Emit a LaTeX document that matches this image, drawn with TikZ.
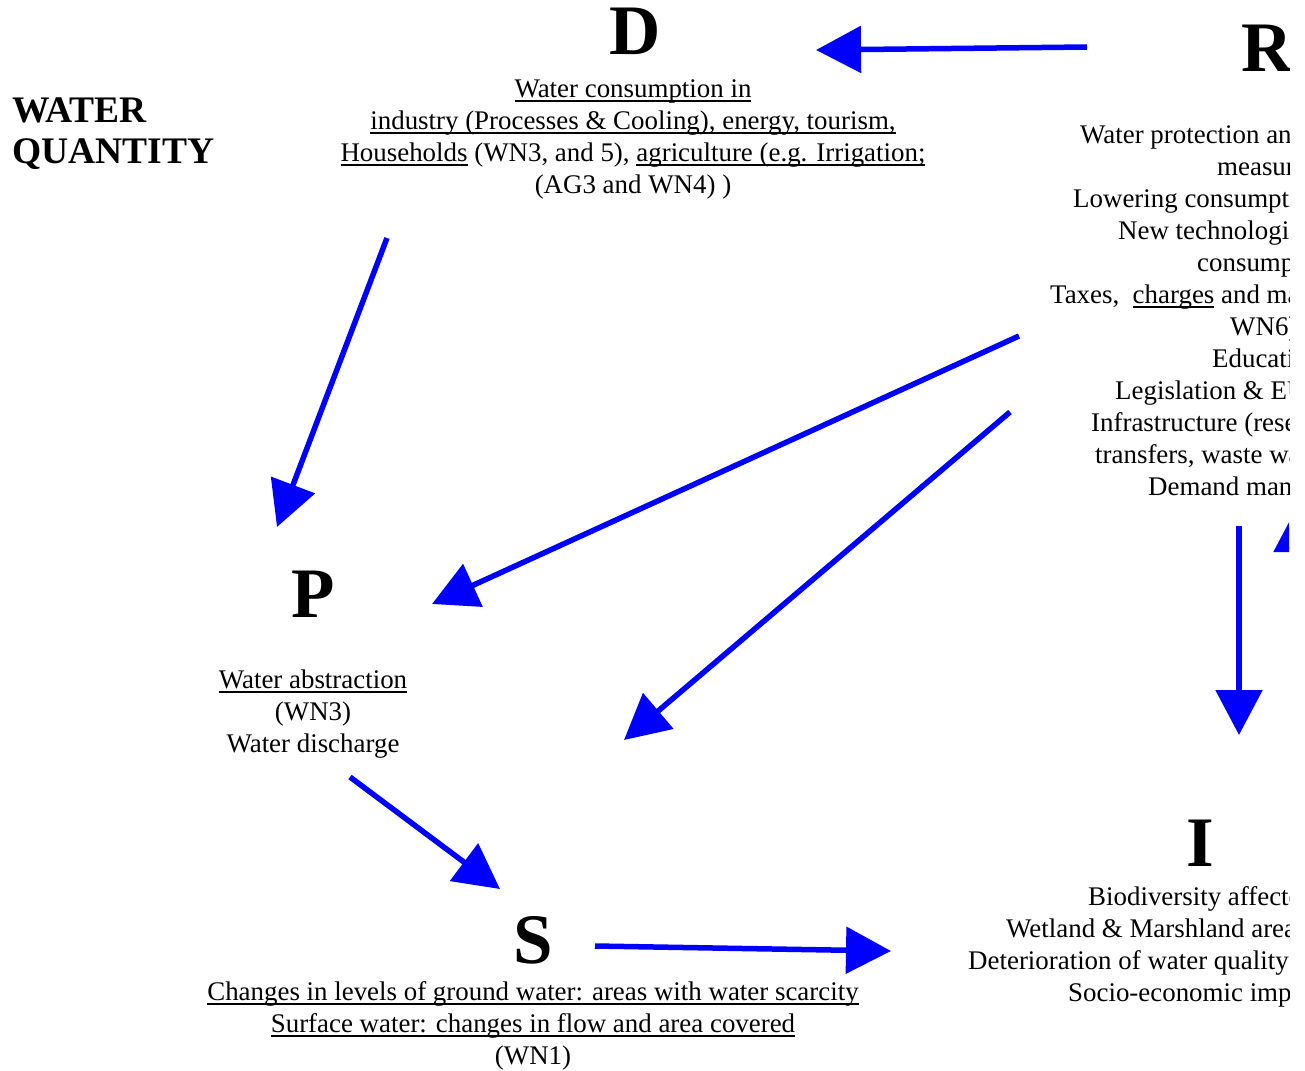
\documentclass[tikz,border=0pt]{standalone}
\usepackage{fontspec}
\setmainfont{Liberation Serif}
\usetikzlibrary{arrows.meta}
\newcommand\myul[1]{\leavevmode\setbox0\hbox{#1}\rlap{\rule[-4.5pt]{\wd0}{1.8pt}}\box0\relax}
\tikzset{
  lbl/.style={font=\fontsize{26.9}{32}\selectfont, inner sep=0pt, align=center},
  lline/.style={font=\fontsize{26.9}{32}\selectfont, inner sep=0pt, anchor=base west},
  big/.style={font=\fontsize{71}{80}\selectfont\bfseries, inner sep=0pt, anchor=base},
  flow/.style={draw=blue, line width=5.5pt, -{Triangle[length=45pt,width=46pt]}},
}
\begin{document}
\begin{tikzpicture}[x=1pt,y=-1pt]
\useasboundingbox (0,0) rectangle (1305,1070);
\clip (0,0) rectangle (1289,1070);

% title
\node[font=\fontsize{37.5}{40}\selectfont\bfseries, inner sep=0pt, anchor=base west, align=left] (title) at (12,163) {WATER\\QUANTITY};

% D
\node[big] (D) at (635,55) {D};
\node[lbl, anchor=base] (Dtxt) at (633,193) {\myul{Water consumption in}\\
\myul{industry (Processes \& Cooling), energy, tourism,}\\
\myul{Households} (WN3, and 5), \myul{agriculture (e.g. Irrigation;}\\
(AG3 and WN4) )};

% R
\node[big] (R) at (1267,72) {R};
\node[lline] (r1) at (1080,143) {Water protection and conservation};
\node[lline] (r2) at (1217,175) {measures};
\node[lline] (r3) at (1073,207) {Lowering consumption (water saving)};
\node[lline] (r4) at (1118,239) {New technologies to reduce};
\node[lline] (r5) at (1197,271) {consumption};
\node[lline] (r6) at (1050,303) {Taxes,\ \ \myul{charges} and market instruments (WN2,};
\node[lline] (r7) at (1230,335) {WN6)};
\node[lline] (r8) at (1212,367) {Education};
\node[lline] (r9) at (1115,399) {Legislation \& EU directives};
\node[lline] (r10) at (1091,431) {Infrastructure (reservoirs, water};
\node[lline] (r11) at (1095,463) {transfers, waste water treatment)};
\node[lline] (r12) at (1148,495) {Demand management};

% P
\node[big] (P) at (313,617) {P};
\node[lbl, anchor=base] (Ptxt) at (313,752) {\myul{Water abstraction}\\(WN3)\\Water discharge};

% S
\node[big] (S) at (533,963) {S};
\node[lbl, anchor=base] (Stxt) at (533,1064) {\myul{Changes in levels of ground water: areas with water scarcity}\\
\myul{Surface water: changes in flow and area covered}\\(WN1)};

% I
\node[big] (I) at (1200,866) {I};
\node[lline] (i1) at (1088,905) {Biodiversity affected};
\node[lline] (i2) at (1006,937) {Wetland \& Marshland areas reduced};
\node[lline] (i3) at (968,969) {Deterioration of water quality (salinity)};
\node[lline] (i4) at (1068,1001) {Socio-economic impacts};

% arrow end points
\coordinate (rdA) at (1087,47);   \coordinate (rdB) at (816,50);
\coordinate (dpA) at (387,238);   \coordinate (dpB) at (277,527);
\coordinate (rpA) at (1019,336);  \coordinate (rpB) at (432,604);
\coordinate (rsA) at (1010,412);  \coordinate (rsB) at (624,740);
\coordinate (riA) at (1239,526);  \coordinate (riB) at (1239,735);
\coordinate (irA) at (1297,715);  \coordinate (irB) at (1297,507);
\coordinate (psA) at (350,777);   \coordinate (psB) at (500,889);
\coordinate (siA) at (595,946);   \coordinate (siB) at (891,951);

\draw[flow] (rdA) -- (rdB);
\draw[flow] (dpA) -- (dpB);
\draw[flow] (rpA) -- (rpB);
\draw[flow] (rsA) -- (rsB);
\draw[flow] (riA) -- (riB);
\draw[flow] (irA) -- (irB);
\draw[flow] (psA) -- (psB);
\draw[flow] (siA) -- (siB);
\end{tikzpicture}
\end{document}
